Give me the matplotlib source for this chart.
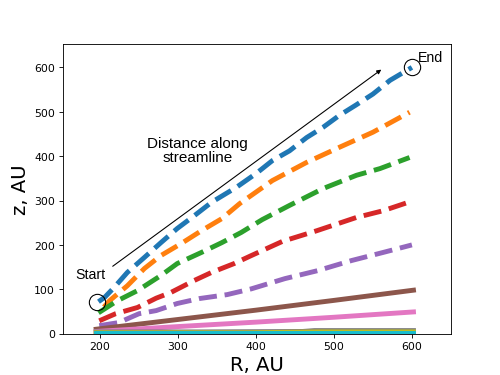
# streamline heights z(R) for a set of launch points
import matplotlib
matplotlib.use('Agg')
import matplotlib.pyplot as plt
import numpy as np

R_BLUE = [198, 206, 218, 235, 257, 278, 299, 321, 343, 375, 401, 421, 443, 465, 486, 507, 528, 550, 572, 600]
Z_BLUE = [72, 82, 104, 138, 172, 205, 237, 266, 296, 330, 362, 390, 412, 442, 465, 492, 515, 540, 571, 600]

R_ORANGE = [205, 212, 235, 257, 278, 304, 330, 356, 379, 421, 465, 507, 550, 597]
Z_ORANGE = [60, 74, 108, 147, 176, 203, 232, 259, 293, 345, 386, 420, 454, 499]

R_GREEN = [198, 222, 248, 278, 299, 330, 356, 381, 408, 443, 486, 529, 559, 597]
Z_GREEN = [47, 74, 97, 131, 158, 183, 205, 228, 257, 289, 327, 357, 372, 397]

R_RED = [199, 220, 248, 272, 291, 321, 343, 372, 394, 434, 478, 529, 563, 597]
Z_RED = [29, 45, 59, 80, 93, 120, 138, 158, 176, 208, 232, 262, 277, 297]

R_PURPLE = [199, 224, 250, 272, 299, 327, 363, 394, 437, 479, 523, 563, 600]
Z_PURPLE = [18, 25, 45, 52, 68, 79, 88, 101, 124, 142, 165, 183, 200]

R_BROWN = [195, 300, 400, 500, 602]
Z_BROWN = [10, 32, 53, 75, 98]

R_PINK = [195, 300, 400, 500, 602]
Z_PINK = [5, 16, 26, 37, 49]

R_GRAY = [195, 330, 460, 475, 602]
Z_GRAY = [4, 4, 5, 7, 7]

R_OLIVE = [195, 390, 480, 602]
Z_OLIVE = [2, 2, 4, 4]

R_CYAN = [195, 602]
Z_CYAN = [1, 1]

dashed = [(R_BLUE, Z_BLUE), (R_ORANGE, Z_ORANGE), (R_GREEN, Z_GREEN),
          (R_RED, Z_RED), (R_PURPLE, Z_PURPLE)]
solid = [(R_BROWN, Z_BROWN), (R_PINK, Z_PINK), (R_GRAY, Z_GRAY),
         (R_OLIVE, Z_OLIVE), (R_CYAN, Z_CYAN)]

fig = plt.figure(figsize=(6.4, 4.8), dpi=78.28)
ax = fig.add_subplot(111)
fig.subplots_adjust(left=0.125, right=0.9, bottom=0.11, top=0.88)

for r, z in dashed:
    ax.plot(r, z, '--', lw=4.5)
for r, z in solid:
    ax.plot(r, z, '-', lw=4.5)

# start / end markers
ax.plot(R_BLUE[0] - 2, Z_BLUE[0], 'o', mfc='none', mec='k', ms=15, mew=1)
ax.plot(R_BLUE[-1], Z_BLUE[-1], 'o', mfc='none', mec='k', ms=15, mew=1)

txtfont = 'Liberation Sans'
ax.text(188, 133, 'Start', fontsize=13, family=txtfont, ha='center', va='center')
ax.text(608, 623, 'End', fontsize=13, family=txtfont, ha='left', va='center')
ax.annotate('', xy=(563, 598), xytext=(214, 149),
            arrowprops=dict(arrowstyle='-|>', color='k', lw=1, mutation_scale=8))
ax.text(325, 413, 'Distance along\nstreamline', fontsize=14, family=txtfont,
        ha='center', va='center', linespacing=1.05)

ax.set_xlim(152, 650)
ax.set_ylim(0, 652)
ax.set_xticks([200, 300, 400, 500, 600])
ax.set_yticks([0, 100, 200, 300, 400, 500, 600])
ax.set_xlabel('R, AU', fontsize=18)
ax.set_ylabel('z, AU', fontsize=18)

plt.savefig('out.png', dpi=78.28)
